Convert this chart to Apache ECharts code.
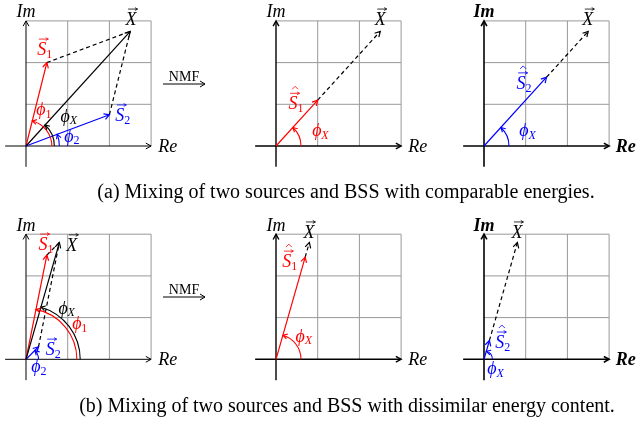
<!DOCTYPE html>
<html>
<head>
<meta charset="utf-8">
<script src="https://cdn.jsdelivr.net/npm/echarts@6/dist/echarts.min.js"></script>
<style>
html, body {margin: 0; padding: 0; background: #fff;}
#main {width: 636px; height: 421px;}
</style>
</head>
<body>
<div id="main"></div>
<script>
// vectors in grid units (1 = one grid cell)
var mixA = {s1: [0.5, 2.0], s2: [2.0, 0.75], x: [2.5, 2.75]};
var bssA = {s1: [1.0, 1.1], s2: [1.5, 1.65]};
var mixB = {s1: [0.5, 2.5], s2: [0.3, 0.3], x: [0.8, 2.8]};
var bssB = {s1: [0.7, 2.45], s2: [0.13, 0.45]};
var gridLines = [1, 2, 3];
var captions = [
    '(a) Mixing of two sources and BSS with comparable energies.',
    '(b) Mixing of two sources and BSS with dissimilar energy content.'
];

var SERIF = '"Liberation Serif", "DejaVu Serif", serif';
var U = 41.7;
var O = [0, 0];
var origins = [[26, 146], [276, 146], [484, 146], [26, 359.3], [276, 359.3], [484, 359.3]];

var panels = [
    {   // (a) mixture
        aw: 1,
        segs: [
            {from: mixA.s1, to: mixA.x, color: 'black', dash: true},
            {from: mixA.s2, to: mixA.x, color: 'black', dash: true},
            {from: O, to: mixA.s1, color: 'red', head: true},
            {from: O, to: mixA.s2, color: 'blue', head: true},
            {from: O, to: mixA.x, color: 'black', head: true}
        ],
        arcs: [
            {r: 0.62, to: mixA.s1, color: 'red'},
            {r: 0.68, to: mixA.x, color: 'black'},
            {r: 0.8, to: mixA.s2, color: 'blue'}
        ],
        labels: [
            {at: [2.52, 3.02], t: 'X', vec: true},
            {at: [0.38, 2.3], t: 'S', sub: '1', vec: true, color: 'red'},
            {at: [2.25, 0.72], t: 'S', sub: '2', vec: true, color: 'blue'},
            {at: [0.36, 0.86], t: 'ϕ', sub: '1', color: 'red'},
            {at: [0.94, 0.7], t: 'ϕ', sub: 'X', color: 'black'},
            {at: [1.03, 0.22], t: 'ϕ', sub: '2', color: 'blue'}
        ]
    },
    {   // (a) source 1 estimate
        aw: 1.4,
        segs: [
            {from: bssA.s1, to: mixA.x, color: 'black', dash: true, head: true},
            {from: O, to: bssA.s1, color: 'red', head: true}
        ],
        arcs: [{r: 0.6, to: mixA.x, color: 'red'}],
        labels: [
            {at: [2.5, 3.02], t: 'X', vec: true},
            {at: [0.41, 1.0], t: 'S', sub: '1', vec: true, hat: true, color: 'red'},
            {at: [0.98, 0.36], t: 'ϕ', sub: 'X', color: 'red'}
        ]
    },
    {   // (a) source 2 estimate
        aw: 1.6, bold: true,
        segs: [
            {from: bssA.s2, to: mixA.x, color: 'black', dash: true, head: true},
            {from: O, to: bssA.s2, color: 'blue', head: true}
        ],
        arcs: [{r: 0.6, to: mixA.x, color: 'blue'}],
        labels: [
            {at: [2.49, 3.02], t: 'X', vec: true},
            {at: [0.89, 1.49], t: 'S', sub: '2', vec: true, hat: true, color: 'blue'},
            {at: [0.96, 0.36], t: 'ϕ', sub: 'X', color: 'blue'}
        ]
    },
    {   // (b) mixture
        aw: 1,
        segs: [
            {from: mixB.s1, to: mixB.x, color: 'black', dash: true},
            {from: mixB.s2, to: mixB.x, color: 'black', dash: true},
            {from: O, to: mixB.s1, color: 'red', head: true},
            {from: O, to: mixB.s2, color: 'blue', head: true},
            {from: O, to: mixB.x, color: 'black', head: true}
        ],
        arcs: [
            {r: 1.22, to: mixB.s1, color: 'red'},
            {r: 1.3, to: mixB.x, color: 'black'},
            {r: 0.3, to: mixB.s2, color: 'blue'}
        ],
        labels: [
            {at: [1.1, 2.72], t: 'X', vec: true},
            {at: [0.41, 2.74], t: 'S', sub: '1', vec: true, color: 'red'},
            {at: [0.58, 0.22], t: 'S', sub: '2', vec: true, color: 'blue'},
            {at: [0.89, 1.21], t: 'ϕ', sub: 'X', color: 'black'},
            {at: [1.22, 0.85], t: 'ϕ', sub: '1', color: 'red'},
            {at: [0.24, -0.19], t: 'ϕ', sub: '2', color: 'blue'}
        ]
    },
    {   // (b) source 1 estimate
        aw: 1.4,
        segs: [
            {from: bssB.s1, to: mixB.x, color: 'black', dash: true, head: true},
            {from: O, to: bssB.s1, color: 'red', head: true}
        ],
        arcs: [{r: 0.6, to: mixB.x, color: 'red'}],
        labels: [
            {at: [0.79, 3.03], t: 'X', vec: true},
            {at: [0.26, 2.33], t: 'S', sub: '1', vec: true, hat: true, color: 'red'},
            {at: [0.58, 0.54], t: 'ϕ', sub: 'X', color: 'red'}
        ]
    },
    {   // (b) source 2 estimate
        aw: 1.6, bold: true,
        segs: [
            {from: bssB.s2, to: mixB.x, color: 'black', dash: true, head: true},
            {from: O, to: bssB.s2, color: 'blue', head: true}
        ],
        arcs: [{r: 0.2, to: mixB.x, color: 'blue'}],
        labels: [
            {at: [0.79, 3.03], t: 'X', vec: true},
            {at: [0.38, 0.39], t: 'S', sub: '2', vec: true, hat: true, color: 'blue'},
            {at: [0.19, -0.23], t: 'ϕ', sub: 'X', color: 'blue'}
        ]
    }
];

function head(p, a, color, w, h) {
    var sp = 0.5;
    return {
        type: 'polyline',
        shape: {points: [
            [p[0] - h * Math.cos(a - sp), p[1] - h * Math.sin(a - sp)], p,
            [p[0] - h * Math.cos(a + sp), p[1] - h * Math.sin(a + sp)]
        ]},
        style: {stroke: color, lineWidth: w, fill: null}
    };
}

function txt(x, y, s, color, font, align) {
    return {type: 'text', x: x, y: y,
        style: {text: s, font: font, fill: color, align: align, verticalAlign: 'middle'}};
}

function segSeries(gi, segs) {
    return {
        type: 'custom', xAxisIndex: gi, yAxisIndex: gi, silent: true, clip: false,
        data: segs.map(function (s) { return [s.from[0], s.from[1], s.to[0], s.to[1]]; }),
        encode: {x: [0, 2], y: [1, 3]},
        renderItem: function (params, api) {
            var s = segs[params.dataIndex];
            var w = s.width || 1.2;
            var p0 = api.coord([api.value(0), api.value(1)]);
            var p1 = api.coord([api.value(2), api.value(3)]);
            var st = {stroke: s.color, lineWidth: w, fill: null};
            if (s.dash) st.lineDash = [4, 3];
            var kids = [{type: 'line', shape: {x1: p0[0], y1: p0[1], x2: p1[0], y2: p1[1]}, style: st}];
            if (s.head) kids.push(head(p1, Math.atan2(p1[1] - p0[1], p1[0] - p0[0]), s.color, w, 6));
            return {type: 'group', children: kids};
        }
    };
}

function arcSeries(gi, arcs) {
    return {
        type: 'custom', xAxisIndex: gi, yAxisIndex: gi, silent: true, clip: false,
        data: arcs.map(function (a) { return [a.r, a.to[0], a.to[1]]; }),
        encode: {x: 1, y: 2},
        renderItem: function (params, api) {
            var a = arcs[params.dataIndex];
            var c = api.coord([0, 0]);
            var rp = api.size([api.value(0), 0])[0];
            var t = api.coord([api.value(1), api.value(2)]);
            var ang = Math.atan2(c[1] - t[1], t[0] - c[0]);
            var e = [c[0] + rp * Math.cos(ang), c[1] - rp * Math.sin(ang)];
            var dir = Math.atan2(-Math.cos(ang), -Math.sin(ang));
            return {type: 'group', children: [
                {type: 'arc', shape: {cx: c[0], cy: c[1], r: rp, startAngle: -ang, endAngle: 0, clockwise: true},
                    style: {stroke: a.color, lineWidth: 1.1, fill: null}},
                head(e, dir, a.color, 1.1, 5)
            ]};
        }
    };
}

function labelSeries(gi, labels) {
    return {
        type: 'custom', xAxisIndex: gi, yAxisIndex: gi, silent: true, clip: false,
        data: labels.map(function (l) { return l.at; }),
        encode: {x: 0, y: 1},
        renderItem: function (params, api) {
            var l = labels[params.dataIndex];
            var col = l.color || 'black';
            var c = api.coord([api.value(0), api.value(1)]);
            var f = (l.bold ? 'bold ' : '') + 'italic ';
            var kids = [txt(c[0], c[1], l.t, col, f + '18px ' + SERIF, 'center')];
            if (l.sub) {
                kids.push(txt(c[0] + 4.5, c[1] + 4.5, l.sub, col,
                    (l.sub === 'X' ? 'italic ' : '') + '12px ' + SERIF, 'left'));
            }
            if (l.vec) {
                var ay = c[1] - 11;
                kids.push({type: 'line', shape: {x1: c[0] - 3, y1: ay, x2: c[0] + 6.5, y2: ay},
                    style: {stroke: col, lineWidth: 0.8}});
                kids.push(head([c[0] + 6.5, ay], 0, col, 0.8, 3));
            }
            if (l.hat) {
                kids.push({type: 'polyline', shape: {points: [[c[0] - 1, c[1] - 15], [c[0] + 2, c[1] - 18], [c[0] + 5, c[1] - 15]]},
                    style: {stroke: col, lineWidth: 0.8, fill: null}});
            }
            return {type: 'group', children: kids};
        }
    };
}

var grids = [], xAxes = [], yAxes = [], series = [];
origins.forEach(function (o, i) {
    var p = panels[i];
    grids.push({left: o[0] - 0.5 * U, top: o[1] - 3 * U, width: 3.5 * U, height: 3.5 * U});
    xAxes.push({type: 'value', gridIndex: i, min: -0.5, max: 3, show: false});
    yAxes.push({type: 'value', gridIndex: i, min: -0.5, max: 3, show: false});
    var cells = [];
    gridLines.forEach(function (v) {
        cells.push({from: [v, 0], to: [v, 3], color: '#999', width: 1});
        cells.push({from: [0, v], to: [3, v], color: '#999', width: 1});
    });
    series.push(segSeries(i, cells));
    series.push(segSeries(i, [
        {from: [-0.5, 0], to: [3, 0], color: 'black', width: p.aw, head: true},
        {from: [0, -0.5], to: [0, 3], color: 'black', width: p.aw, head: true}
    ]));
    series.push(segSeries(i, p.segs));
    series.push(arcSeries(i, p.arcs));
    series.push(labelSeries(i, p.labels.concat([
        {at: [0, 3.2], t: 'Im', bold: p.bold},
        {at: [3.4, -0.03], t: 'Re', bold: p.bold}
    ])));
});

function nmf(y) {
    return {type: 'group', children: [
        {type: 'text', x: 184, y: y - 7, style: {text: 'NMF', font: '14px ' + SERIF, fill: '#000', align: 'center', verticalAlign: 'middle'}},
        {type: 'line', shape: {x1: 163, y1: y, x2: 205, y2: y}, style: {stroke: '#000', lineWidth: 1}},
        {type: 'polyline', shape: {points: [[200, y - 3], [205, y], [200, y + 3]]}, style: {stroke: '#000', lineWidth: 1, fill: null}}
    ]};
}

var chart = echarts.init(document.getElementById('main'));
chart.setOption({
    animation: false,
    grid: grids,
    xAxis: xAxes,
    yAxis: yAxes,
    series: series,
    graphic: [
        nmf(84),
        nmf(297),
        {type: 'text', x: 346, y: 193, style: {text: captions[0], font: '20px ' + SERIF, fill: '#000', align: 'center', verticalAlign: 'middle'}},
        {type: 'text', x: 347, y: 407, style: {text: captions[1], font: '20px ' + SERIF, fill: '#000', align: 'center', verticalAlign: 'middle'}}
    ]
});
</script>
</body>
</html>
